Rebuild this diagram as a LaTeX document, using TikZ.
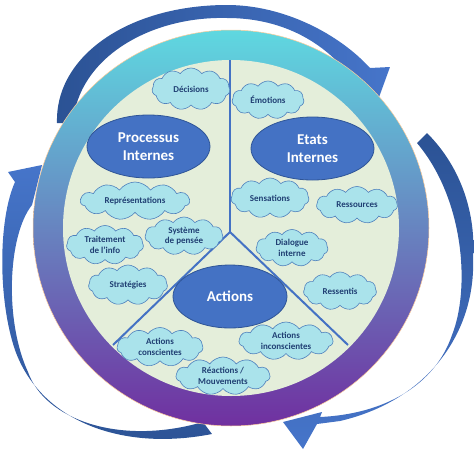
\documentclass[tikz,border=0pt]{standalone}
\usepackage{fontspec}
\setmainfont{Carlito}
\usetikzlibrary{shapes.geometric,shapes.symbols}
\definecolor{ringtop}{HTML}{5FD8E0}
\definecolor{ringmid}{HTML}{5D92CF}
\definecolor{ringbot}{HTML}{7030A0}
\definecolor{disc}{HTML}{E4EEDA}
\definecolor{mainblue}{HTML}{4472C4}
\definecolor{darkblue}{HTML}{2F5597}
\definecolor{cloudfill}{HTML}{AAE3EB}
\definecolor{cloudline}{HTML}{4F81BD}
\definecolor{cloudtext}{HTML}{203F73}
\definecolor{arrowdark}{HTML}{2B5294}
\definecolor{arrowlight}{HTML}{4675CA}
\begin{document}
\begin{tikzpicture}[x=1pt,y=-1pt,
  topic/.style={ellipse, fill=mainblue, draw=darkblue, line width=0.8pt, text=white,
    font=\fontsize{15}{17.7}\selectfont\bfseries, align=center, inner sep=0pt},
  idea/.style={cloud, cloud puffs=11, cloud puff arc=110, cloud ignores aspect,
    fill=cloudfill, draw=cloudline, line width=0.6pt, inner sep=0pt},
  ideatext/.style={text=cloudtext, font=\fontsize{9}{10.7}\selectfont\bfseries, align=center},
  divider/.style={draw=mainblue, line width=2pt}]

\useasboundingbox (0,0) rectangle (474,450);

% curved arrows
\shade[left color=arrowdark, right color=arrowlight]
  (57,123) .. controls (55,55) and (130,5) .. (227,5)
  .. controls (285,5) and (340,35) .. (370,68)
  -- (390,67) -- (378,100) -- (347,72)
  .. controls (320,40) and (280,18) .. (227,18)
  .. controls (150,16) and (78,58) .. (73,123) -- cycle;

\shade[top color=arrowdark, bottom color=arrowlight]
  (427,133) .. controls (462,168) and (476,215) .. (473,258)
  .. controls (476,330) and (430,400) .. (340,421)
  -- (317,424) -- (303,449) -- (283,422) -- (322,412) -- (320,417)
  .. controls (385,414) and (435,385) .. (452,335)
  .. controls (470,290) and (465,200) .. (417,143) -- cycle;

\shade[bottom color=arrowdark, top color=arrowlight]
  (212,434) .. controls (120,452) and (40,420) .. (15,350)
  .. controls (-2,300) and (-2,220) .. (15,182)
  -- (8,172) -- (42,165) -- (32,205)
  .. controls (8,235) and (4,320) .. (28,372)
  .. controls (45,420) and (120,446) .. (203,422) -- cycle;

% ring and disc
\shade[top color=ringtop, middle color=ringmid, bottom color=ringbot]
  (231,228) circle[radius=198pt];
\draw[draw=orange!40, line width=0.5pt] (231,228) circle[radius=198pt];
\fill[disc] (231,228) circle[radius=168pt];

% dividers
\coordinate (hub) at (230,232);
\coordinate (divtop) at (230,60);
\coordinate (divleft) at (113,345);
\coordinate (divright) at (348,345);
\draw[divider] (divtop) -- (hub);
\draw[divider] (hub) -- (divleft);
\draw[divider] (hub) -- (divright);

% main topics
\node[topic, minimum width=123pt, minimum height=63pt] (processus) at (148.5,146.5) {Processus\\Internes};
\node[topic, minimum width=123pt, minimum height=63pt] (etats) at (312.5,148.5) {Etats\\Internes};
\node[topic, minimum width=114pt, minimum height=63pt] (actions) at (230,296.5) {Actions};

% clouds
\node[idea, minimum width=78pt, minimum height=42pt, label={[ideatext]center:Décisions}] (decisions) at (191,89) {};
\node[idea, minimum width=72pt, minimum height=38pt, label={[ideatext]center:Émotions}] (emotions) at (268,100) {};
\node[idea, minimum width=109pt, minimum height=38pt, label={[ideatext]center:Représentations}] (representations) at (135,201) {};
\node[idea, minimum width=77pt, minimum height=39pt, label={[ideatext]center:{Traitement\\de l’info}}] (traitement) at (105,245) {};
\node[idea, minimum width=78pt, minimum height=38pt, label={[ideatext]center:{Système\\de pensée}}] (systeme) at (184,236) {};
\node[idea, minimum width=79pt, minimum height=40pt, label={[ideatext]center:Stratégies}] (strategies) at (128,285) {};
\node[idea, minimum width=78pt, minimum height=40pt, label={[ideatext]center:Sensations}] (sensations) at (270,198) {};
\node[idea, minimum width=81pt, minimum height=37pt, label={[ideatext]center:Ressources}] (ressources) at (357,205) {};
\node[idea, minimum width=72pt, minimum height=37pt, label={[ideatext]center:{Dialogue\\interne}}] (dialogue) at (292,248) {};
\node[idea, minimum width=73pt, minimum height=38pt, label={[ideatext]center:Ressentis}] (ressentis) at (340,291) {};
\node[idea, minimum width=86pt, minimum height=39pt, label={[ideatext]center:{Actions\\conscientes}}] (conscientes) at (160,347) {};
\node[idea, minimum width=94pt, minimum height=38pt, label={[ideatext]center:{Actions\\inconscientes}}] (inconscientes) at (286,341) {};
\node[idea, minimum width=94pt, minimum height=38pt, label={[ideatext]center:{Réactions /\\Mouvements}}] (reactions) at (223,376) {};
\end{tikzpicture}
\end{document}
